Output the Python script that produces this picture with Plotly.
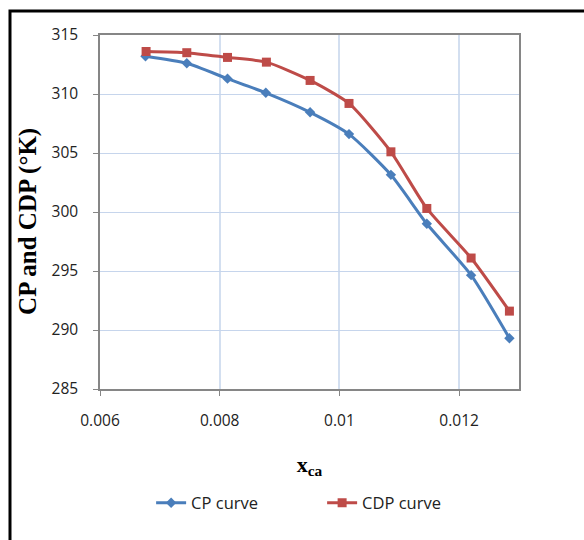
import plotly.graph_objects as go

x_cp = [0.00676, 0.00745, 0.00813, 0.00877, 0.00951, 0.01016, 0.01086, 0.01146, 0.01220, 0.01284]
cp = [313.2, 312.6, 311.3, 310.1, 308.45, 306.6, 303.15, 299.0, 294.65, 289.3]
x_cdp = [0.00677, 0.00745, 0.00813, 0.00878, 0.00951, 0.01016, 0.01086, 0.01146, 0.01220, 0.01284]
cdp = [313.6, 313.5, 313.1, 312.7, 311.15, 309.2, 305.1, 300.3, 296.1, 291.6]

x_ticks = [0.006, 0.008, 0.010, 0.012]
x_tick_labels = ["0.006", "0.008", "0.01", "0.012"]
y_ticks = [285, 290, 295, 300, 305, 310, 315]

fig = go.Figure()
fig.add_trace(go.Scatter(
    x=x_cp, y=cp, name="CP curve", mode="lines+markers",
    line=dict(color="#4A7EBB", width=3, shape="spline", smoothing=0.6),
    marker=dict(symbol="diamond", size=8, color="#4A7EBB"),
))
fig.add_trace(go.Scatter(
    x=x_cdp, y=cdp, name="CDP curve", mode="lines+markers",
    line=dict(color="#BE4B48", width=3, shape="spline", smoothing=0.6),
    marker=dict(symbol="square", size=9, color="#BE4B48"),
))

tick_font = dict(family="Open Sans, Liberation Sans, sans-serif", size=15.5, color="#222222")
fig.update_layout(
    width=584, height=540,
    margin=dict(l=100, r=65, t=35, b=151, autoexpand=False),
    paper_bgcolor="white", plot_bgcolor="white",
    showlegend=True,
    legend=dict(orientation="h", x=0.122, xanchor="left", y=-0.322, yanchor="middle",
                font=dict(family="Open Sans, Liberation Sans, sans-serif", size=16.5, color="#222222"),
                entrywidth=126, entrywidthmode="pixels", tracegroupgap=0),
    xaxis=dict(range=[0.006, 0.013], tickvals=x_ticks, ticktext=x_tick_labels,
               showgrid=True, gridcolor="#D3DFF0", gridwidth=1.5,
               showline=True, linecolor="#868686", linewidth=1.5, mirror=True,
               ticks="outside", ticklen=5, tickcolor="#868686",
               tickfont=tick_font, ticklabelstandoff=12, zeroline=False,
               title=dict(text="<b>x<sub>ca</sub></b>",
                          font=dict(family="Liberation Serif, serif", size=22, color="black"),
                          standoff=26)),
    yaxis=dict(range=[285, 315], tickvals=y_ticks,
               showgrid=True, gridcolor="#C6D5EC", gridwidth=1.2,
               showline=True, linecolor="#868686", linewidth=1.5, mirror=True,
               ticks="outside", ticklen=5, tickcolor="#868686",
               tickfont=tick_font, ticklabelstandoff=12, zeroline=False),
    annotations=[dict(text="<b>CP and CDP (°K)</b>", xref="paper", yref="paper",
                      x=-0.172, y=0.4746, xanchor="center", yanchor="middle",
                      textangle=-90, showarrow=False,
                      font=dict(family="Liberation Serif, serif", size=25, color="black"))],
    shapes=[dict(type="rect", xref="paper", yref="paper",
                 x0=-0.2148, x1=1.2, y0=-0.46, y1=1.0678,
                 line=dict(color="black", width=3), fillcolor="rgba(0,0,0,0)", layer="above")],
)

fig.write_html("out.html")
